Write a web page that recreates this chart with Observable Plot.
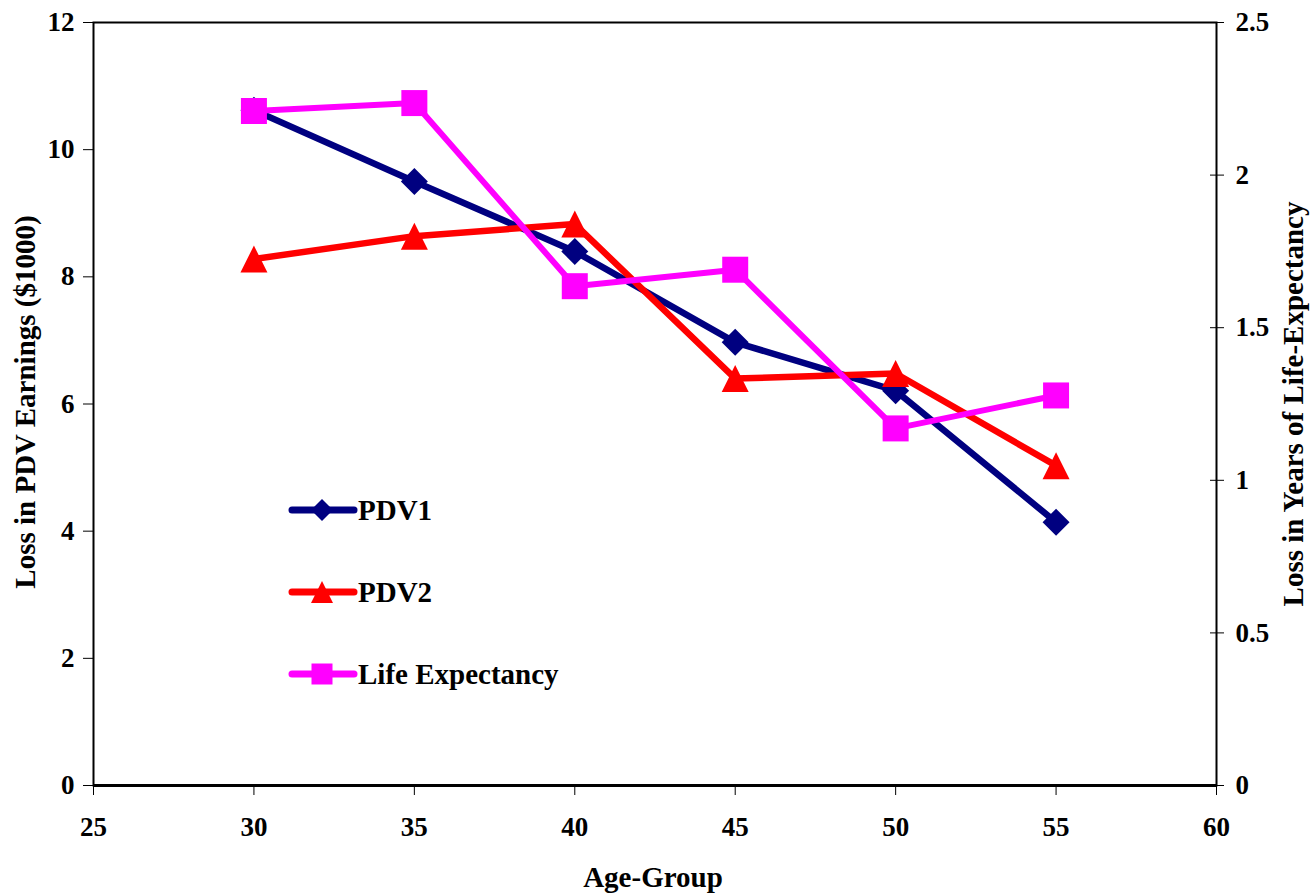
<!DOCTYPE html>
<html>
<head>
<meta charset="utf-8">
<script src="https://cdn.jsdelivr.net/npm/d3@7"></script>
<script src="https://cdn.jsdelivr.net/npm/@observablehq/plot@0.6"></script>
<style>
  html, body { margin: 0; padding: 0; background: #fff; }
  #chart { width: 1311px; height: 894px; }
</style>
</head>
<body>
<div id="chart"></div>
<script>
// ---- data ----
const ages = [30, 35, 40, 45, 50, 55];
const pdv1 = [10.62, 9.50, 8.40, 6.97, 6.21, 4.14];
const pdv2 = [8.28, 8.64, 8.83, 6.40, 6.48, 5.03];
const lifeExp = [2.21, 2.236, 1.636, 1.69, 1.17, 1.278];

const xTicks = [25, 30, 35, 40, 45, 50, 55, 60];
const yLeftTicks = [0, 2, 4, 6, 8, 10, 12];
const yRightTicks = [0, 0.5, 1, 1.5, 2, 2.5];

const seriesNames = ["PDV1", "PDV2", "Life Expectancy"];
const xTitle = "Age-Group";
const yLeftTitle = "Loss in PDV Earnings ($1000)";
const yRightTitle = "Loss in Years of Life-Expectancy";

// ---- dual axis mapping ----
const leftMax = 12, rightMax = 2.5;
const k = leftMax / rightMax;

const rows1 = ages.map((a, i) => ({age: a, v: pdv1[i]}));
const rows2 = ages.map((a, i) => ({age: a, v: pdv2[i]}));
const rows3 = ages.map((a, i) => ({age: a, v: lifeExp[i] * k}));

// ---- custom symbols ----
const half = (size) => Math.sqrt(size / Math.PI);
const diamond = {draw(c, size) { const r = half(size); c.moveTo(0, -r); c.lineTo(r, 0); c.lineTo(0, r); c.lineTo(-r, 0); c.closePath(); }};
const triangle = {draw(c, size) { const r = half(size); c.moveTo(0, -r); c.lineTo(r, r); c.lineTo(-r, r); c.closePath(); }};
const square = {draw(c, size) { const r = half(size); c.moveTo(-r, -r); c.lineTo(r, -r); c.lineTo(r, r); c.lineTo(-r, r); c.closePath(); }};

const colors = ["#000080", "#ff0000", "#ff00ff"];
const serif = "'Liberation Serif', 'Times New Roman', serif";

const plot = Plot.plot({
  width: 1311,
  height: 894,
  marginLeft: 93,
  marginRight: 95,
  marginTop: 22,
  marginBottom: 109,
  style: {fontFamily: serif, fontSize: "27px", fontWeight: "bold", color: "#000", background: "#fff"},
  x: {domain: [25, 60]},
  y: {domain: [0, 12]},
  marks: [
    Plot.axisX({ticks: xTicks, tickSize: 10, tickPadding: 21, label: null, tickFormat: d => d}),
    Plot.axisY({ticks: yLeftTicks, tickSize: 10, tickPadding: 9, label: null, tickFormat: d => d}),
    Plot.axisY({anchor: "right", ticks: yRightTicks.map(v => v * k), tickSize: 7, tickPadding: 12, label: null, tickFormat: d => +(d / k).toFixed(1) + ""}),
    Plot.axisY({anchor: "right", ticks: yRightTicks.map(v => v * k), tickSize: -7, label: null, tickFormat: () => ""}),
    Plot.frame({stroke: "#000", strokeWidth: 2}),
    Plot.ruleY([0], {stroke: "#000", strokeWidth: 3}),
    Plot.line(rows1, {x: "age", y: "v", stroke: colors[0], strokeWidth: 6.5, strokeLinejoin: "round"}),
    Plot.dot(rows1, {x: "age", y: "v", symbol: diamond, r: 13.5, fill: colors[0], stroke: "none"}),
    Plot.line(rows2, {x: "age", y: "v", stroke: colors[1], strokeWidth: 6.5, strokeLinejoin: "round"}),
    Plot.dot(rows2, {x: "age", y: "v", symbol: triangle, r: 13.5, fill: colors[1], stroke: "none"}),
    Plot.line(rows3, {x: "age", y: "v", stroke: colors[2], strokeWidth: 6, strokeLinejoin: "round"}),
    Plot.dot(rows3, {x: "age", y: "v", symbol: square, r: 13, fill: colors[2], stroke: "none"})
  ]
});

document.getElementById("chart").appendChild(plot);

// ---- axis titles and legend ----
const svg = d3.select(plot);

function title(sel) {
  return sel.attr("text-anchor", "middle")
    .style("font-family", serif).style("font-size", "29px").style("font-weight", "bold");
}

svg.append("text").attr("transform", "translate(35,402) rotate(-90)").call(title).text(yLeftTitle);
svg.append("text").attr("transform", "translate(1303,404) rotate(-90)").call(title).text(yRightTitle);
svg.append("text").attr("x", 653).attr("y", 887).call(title).text(xTitle);

const legendRows = [510, 592, 674];
const legendSymbols = [diamond, triangle, square];
const legendR = [11, 11, 10.5];
const lg = svg.append("g");
seriesNames.forEach((name, i) => {
  const y = legendRows[i];
  lg.append("line").attr("x1", 292).attr("x2", 354).attr("y1", y).attr("y2", y)
    .attr("stroke", colors[i]).attr("stroke-width", 7).attr("stroke-linecap", "round");
  lg.append("path")
    .attr("transform", `translate(322,${y})`)
    .attr("d", d3.symbol(legendSymbols[i], Math.PI * legendR[i] * legendR[i])())
    .attr("fill", colors[i]);
  lg.append("text").attr("x", 358).attr("y", y + 10)
    .attr("text-anchor", "start")
    .style("font-family", serif).style("font-size", "29px").style("font-weight", "bold")
    .text(name);
});
</script>
</body>
</html>
